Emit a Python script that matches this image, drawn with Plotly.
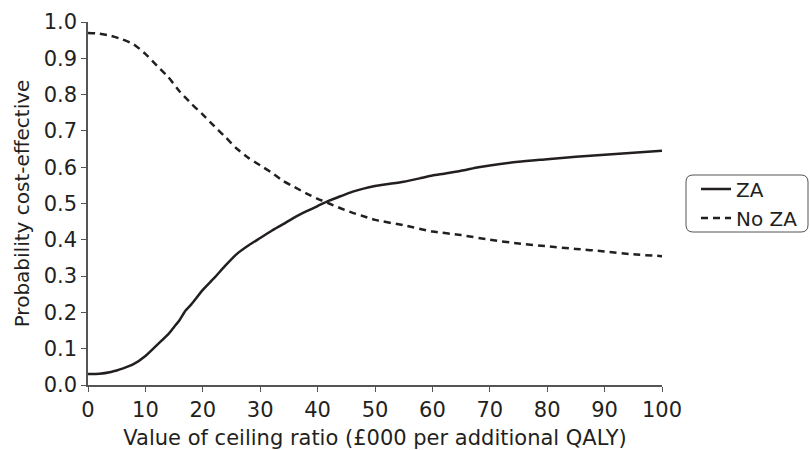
import plotly.graph_objects as go

za_x = [0, 2, 4, 5, 6, 8, 10, 12, 14, 15, 16, 17, 18, 20, 22, 24, 26, 28, 30, 32, 34, 36, 38, 40,
        42, 44, 46, 48, 50, 52, 55, 58, 60, 62, 65, 68, 70, 75, 80, 85, 90, 95, 100]
za_y = [0.030, 0.031, 0.036, 0.040, 0.045, 0.058, 0.080, 0.110, 0.140, 0.160, 0.180, 0.205, 0.222,
        0.262, 0.295, 0.330, 0.362, 0.385, 0.405, 0.425, 0.443, 0.462, 0.478, 0.493,
        0.508, 0.520, 0.532, 0.541, 0.548, 0.553, 0.560, 0.570, 0.577, 0.582, 0.590, 0.600,
        0.605, 0.615, 0.622, 0.629, 0.634, 0.640, 0.645]

noza_x = [0, 2, 4, 6, 8, 10, 12, 14, 16, 18, 20, 22, 24, 26, 28, 30, 32, 34, 36, 38, 40,
          42, 44, 46, 48, 50, 55, 60, 65, 70, 75, 80, 85, 90, 95, 100]
noza_y = [0.970, 0.968, 0.962, 0.952, 0.938, 0.912, 0.880, 0.848, 0.808, 0.775, 0.745, 0.713,
          0.682, 0.650, 0.625, 0.605, 0.585, 0.562, 0.545, 0.528, 0.513, 0.500, 0.487, 0.475,
          0.465, 0.455, 0.440, 0.423, 0.413, 0.400, 0.390, 0.382, 0.375, 0.368, 0.360, 0.355]

x_ticks = [0, 10, 20, 30, 40, 50, 60, 70, 80, 90, 100]
y_ticks = [0.0, 0.1, 0.2, 0.3, 0.4, 0.5, 0.6, 0.7, 0.8, 0.9, 1.0]
y_tick_labels = [f"{v:.1f}" for v in y_ticks]

FONT = "DejaVu Sans"
INK = "#231f20"
AX = "#555555"

fig = go.Figure()
fig.add_trace(go.Scatter(x=za_x, y=za_y, mode="lines", name="ZA",
                         line=dict(color=INK, width=2.5, shape="spline", smoothing=0.6)))
fig.add_trace(go.Scatter(x=noza_x, y=noza_y, mode="lines", name="No ZA",
                         line=dict(color=INK, width=2.5, dash="7px,5px", shape="spline", smoothing=0.6)))

W, H = 810, 450
L, R, T, B = 88, 148, 22, 65
pw, ph = W - L - R, H - T - B

def px2paper(px, py):
    return (px - L) / pw, (H - B - py) / ph

x0, y1 = px2paper(686, 175)
x1, y0 = px2paper(808, 232)
rx, ry = 7 / pw, 7 / ph
path = (f"M {x0+rx},{y1} L {x1-rx},{y1} Q {x1},{y1} {x1},{y1-ry} "
        f"L {x1},{y0+ry} Q {x1},{y0} {x1-rx},{y0} L {x0+rx},{y0} Q {x0},{y0} {x0},{y0+ry} "
        f"L {x0},{y1-ry} Q {x0},{y1} {x0+rx},{y1} Z")

fig.update_layout(
    width=W, height=H,
    margin=dict(l=L, r=R, t=T, b=B, autoexpand=False),
    paper_bgcolor="white", plot_bgcolor="white",
    font=dict(family=FONT, size=21, color=INK),
    showlegend=True,
    legend=dict(x=(696 - L) / pw, y=0.5, xanchor="left", yanchor="middle",
                font=dict(family=FONT, size=20, color=INK),
                bgcolor="rgba(0,0,0,0)", borderwidth=0,
                tracegroupgap=0, itemwidth=30),
    shapes=[dict(type="path", path=path, xref="paper", yref="paper",
                 line=dict(color=AX, width=1))],
    xaxis=dict(range=[0, 100], tickvals=x_ticks, ticks="outside", ticklen=5,
               tickcolor=AX, showline=True, linecolor=AX, linewidth=1.5,
               showgrid=False, zeroline=False, automargin=False,
               tickfont=dict(size=21),
               title=dict(text="Value of ceiling ratio (£000 per additional QALY)",
                          font=dict(size=21))),
    yaxis=dict(range=[0, 1.0], tickvals=y_ticks, ticktext=y_tick_labels, ticks="outside",
               ticklen=5, tickcolor=AX, showline=True, linecolor=AX,
               linewidth=1.5, showgrid=False, zeroline=False, automargin=False,
               tickfont=dict(size=21),
               title=dict(text="Probability cost-effective", font=dict(size=20), standoff=9)),
)

fig.write_html("out.html", config={"displayModeBar": False},
               post_script="document.body.style.margin='0px';")
